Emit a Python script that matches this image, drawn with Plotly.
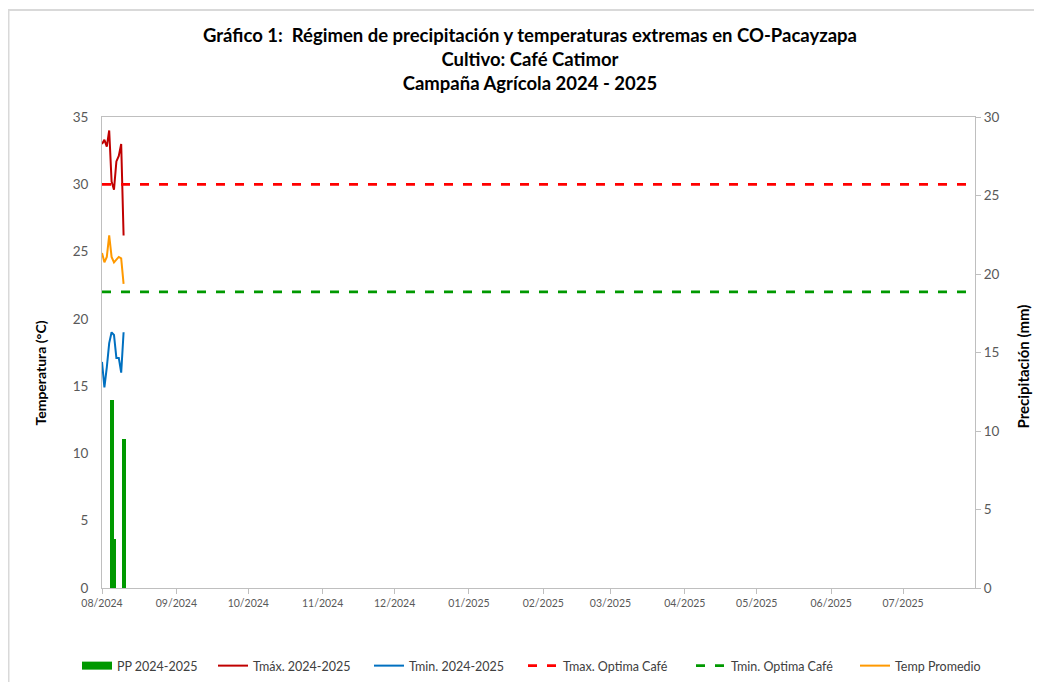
import plotly.graph_objects as go

dates = ["2024-08-01", "2024-08-02", "2024-08-03", "2024-08-04", "2024-08-05",
         "2024-08-06", "2024-08-07", "2024-08-08", "2024-08-09", "2024-08-10"]
pp = [0, 0, 0, 0, 12.0, 3.1, 0, 0, 0, 9.5]
tmax = [33.0, 33.3, 32.8, 34.0, 30.2, 29.6, 31.7, 32.1, 33.0, 26.2]
tmin = [16.8, 14.9, 16.4, 18.2, 19.0, 18.8, 17.1, 17.1, 16.0, 19.0]
tprom = [24.9, 24.2, 24.6, 26.2, 24.6, 24.2, 24.4, 24.6, 24.5, 22.6]

season = ["2024-08-01", "2025-07-31"]
tmax_opt = [30, 30]
tmin_opt = [22, 22]

title_lines = ["Gráfico 1:  Régimen de precipitación y temperaturas extremas en CO-Pacayzapa",
               "Cultivo: Café Catimor",
               "Campaña Agrícola 2024 - 2025"]

FONT = "Lato"
GRAY = "#595959"
AX = "#bfbfbf"

# the page body has an 8px margin: work in figure pixels = page pixels - 8
OFF = 8
W, H = 1042 - OFF, 682 - OFF
L, T = 102 - OFF, 117 - OFF
PR, PB = 975 - OFF, 588 - OFF
R, B = W - PR, H - PB
pw, ph = PR - L, PB - T


def px(xp):   # page x -> paper x
    return (xp - OFF - L) / pw


def py(yp):   # page y -> paper y
    return (PB - (yp - OFF)) / ph


# legend text start positions (page px) in the reference
leg_text_x = [117, 253, 409, 563, 731, 895]
LEG_Y = 1 - (666 - OFF) / H


def leg(i):
    return dict(orientation="h", xref="container", yref="container",
                x=(leg_text_x[i] - 48) / W, xanchor="left", y=LEG_Y, yanchor="middle",
                font=dict(size=12.5, color="#404040", family=FONT),
                bgcolor="rgba(0,0,0,0)", borderwidth=0)


fig = go.Figure()
fig.add_trace(go.Bar(x=dates, y=pp, name="PP 2024-2025", yaxis="y2", showlegend=False,
                     legendgroup="pp",
                     marker=dict(color="#009900", line=dict(width=0)),
                     width=1.6 * 86400000))
# legend key for the precipitation bars (wide green block, as in the original)
fig.add_trace(go.Scatter(x=[None], y=[None], name="PP 2024-2025", mode="lines",
                         legendgroup="pp", legend="legend",
                         line=dict(color="#009900", width=8)))
fig.add_trace(go.Scatter(x=dates, y=tmax, name="Tmáx. 2024-2025", mode="lines",
                         legend="legend2", line=dict(color="#C00000", width=2)))
fig.add_trace(go.Scatter(x=dates, y=tmin, name="Tmin. 2024-2025", mode="lines",
                         legend="legend3", line=dict(color="#0070C0", width=2)))
fig.add_trace(go.Scatter(x=season, y=tmax_opt, name="Tmax. Optima Café", mode="lines",
                         legend="legend4",
                         line=dict(color="#FF0000", width=2.7, dash="9px,10px")))
fig.add_trace(go.Scatter(x=season, y=tmin_opt, name="Tmin. Optima Café", mode="lines",
                         legend="legend5",
                         line=dict(color="#009900", width=2.7, dash="9px,10px")))
fig.add_trace(go.Scatter(x=dates, y=tprom, name="Temp Promedio", mode="lines",
                         legend="legend6", line=dict(color="#FF9900", width=2)))

fig.update_layout(
    width=W, height=H,
    margin=dict(l=L, r=R, t=T, b=B, autoexpand=False),
    paper_bgcolor="white", plot_bgcolor="white",
    font=dict(family=FONT, color=GRAY, size=12),
    showlegend=True,
    bargap=0,
    title=dict(text="<br>".join(title_lines), x=(530 - OFF) / W, xanchor="center",
               xref="container", y=1 - 34 / H, yanchor="top", yref="container",
               font=dict(family=FONT, size=18.5, color="black", weight="bold")),
    xaxis=dict(type="date", range=season, tick0="2024-08-01", dtick="M1",
               tickformat="%m/%Y", showgrid=False, showline=True, linecolor=AX,
               linewidth=1, mirror=True, ticks="outside", ticklen=5, tickcolor=AX,
               automargin=False, tickfont=dict(size=10.5, color=GRAY)),
    yaxis=dict(range=[0, 35], dtick=5, showgrid=False, showline=True, linecolor=AX,
               linewidth=1, ticks="", zeroline=False, automargin=False,
               ticklabelstandoff=10,
               tickfont=dict(size=13.5, color=GRAY)),
    yaxis2=dict(range=[0, 30], dtick=5, overlaying="y", side="right", showgrid=False,
                showline=True, linecolor=AX, linewidth=1, ticks="outside", ticklen=5,
                tickcolor=AX, zeroline=False, automargin=False,
                tickfont=dict(size=13.5, color=GRAY)),
    legend=leg(0), legend2=leg(1), legend3=leg(2),
    legend4=leg(3), legend5=leg(4), legend6=leg(5),
    annotations=[
        dict(text="<b>Temperatura (°C)</b>", textangle=-90, xref="paper", yref="paper",
             x=px(40), y=py(373.5), xanchor="center", yanchor="middle", showarrow=False,
             font=dict(family=FONT, size=14, color="black")),
        dict(text="<b>Precipitación (mm)</b>", textangle=-90, xref="paper", yref="paper",
             x=px(1022), y=py(366.5), xanchor="center", yanchor="middle", showarrow=False,
             font=dict(family=FONT, size=15, color="black")),
    ],
    shapes=[dict(type="rect", xref="paper", yref="paper",
                 x0=px(OFF + 0.5), x1=px(1060), y0=py(700), y1=py(OFF + 2),
                 line=dict(color="#d9d9d9", width=2), fillcolor="rgba(0,0,0,0)",
                 layer="below")],
)

fig.write_html("out.html")
